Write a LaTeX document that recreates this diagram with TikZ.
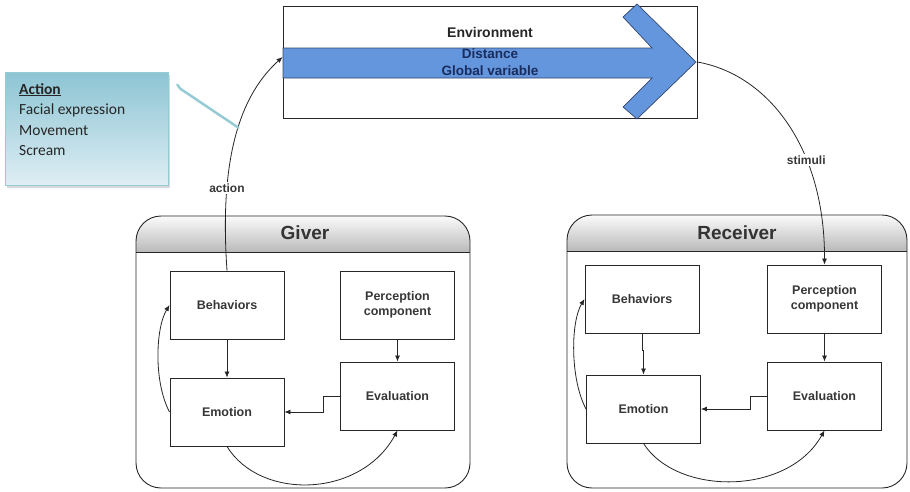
\documentclass[tikz,border=0pt]{standalone}
\usepackage{fontspec}
\setmainfont{Liberation Sans}
\newfontfamily\calfont{Carlito}
\usetikzlibrary{arrows.meta,shadows}

\definecolor{arrowblue}{RGB}{100,150,222}
\definecolor{arrowedge}{RGB}{50,70,110}
\definecolor{vartext}{RGB}{25,45,95}
\definecolor{calltop}{RGB}{140,196,212}
\definecolor{callbot}{RGB}{222,238,243}
\definecolor{callline}{RGB}{150,202,212}
\definecolor{headtop}{RGB}{250,250,250}
\definecolor{headbot}{RGB}{185,185,185}
\definecolor{boxtext}{RGB}{55,55,55}

\tikzset{
  envbox/.style={draw=black!85, line width=0.9pt, fill=white, minimum width=414pt, minimum height=112pt},
  blockarrow/.style={draw=arrowedge, line width=0.7pt, fill=arrowblue},
  envtitle/.style={font=\fontsize{14}{16}\selectfont\bfseries, text=black!85},
  envvars/.style={align=center, font=\fontsize{13.5}{17}\selectfont\bfseries, text=vartext},
  actionbox/.style={draw=callline, line width=0.6pt, top color=calltop, bottom color=callbot,
    minimum width=163pt, minimum height=113pt, drop shadow={shadow xshift=2pt, shadow yshift=-3pt, opacity=0.3}},
  acttext/.style={anchor=north west, align=left, inner sep=0pt, text=black!85, font=\calfont\fontsize{15.5}{20.5}\selectfont},
  callout/.style={draw=callline, line width=2.5pt, line cap=round},
  headband/.style={anchor=north, inner sep=0pt, minimum width=400pt, minimum height=36pt, top color=headtop, bottom color=headbot},
  agentbox/.style={draw=black!85, line width=0.9pt, rounded corners=25pt, fill=white,
    path picture={
      \node[headband] at (path picture bounding box.north) {};
      \draw[line width=0.9pt, black!85] ([yshift=-36pt]path picture bounding box.north west) -- ([yshift=-36pt]path picture bounding box.north east);
    }},
  agenttitle/.style={font=\fontsize{19}{22}\selectfont\bfseries, text=black!80},
  compbox/.style={draw=black!85, line width=0.9pt, fill=white, minimum width=114pt, minimum height=68pt,
    align=center, font=\fontsize{12.5}{15}\selectfont\bfseries, text=boxtext},
  flow/.style={-{Latex[length=6pt,width=5pt]}, line width=0.8pt, draw=black!85},
  flowlabel/.style={fill=white, inner sep=1.5pt, font=\fontsize{12}{14}\selectfont\bfseries, text=boxtext}
}

\begin{document}
\begin{tikzpicture}[x=1pt,y=1pt,yscale=-1]
\useasboundingbox (0,0) rectangle (910,491);

%Shape: Environment box
\node[envbox] (env) at (490,62) {};
%Shape: Block arrow
\draw[blockarrow] (283,48) -- (652,48) -- (623,17) -- (637,4) -- (696,62) -- (637,119) -- (623,107) -- (652,78) -- (283,78) -- cycle;
% Text Node
\node[envtitle] (envname) at (490,32) {Environment};
% Text Node
\node[envvars] (envvar) at (490,62) {Distance\\Global variable};

%Shape: Action callout
\node[actionbox] (act) at (86.5,128.5) {};
% Text Node
\node[acttext] (actlist) at (19,83) {\textbf{\underline{Action}}\\Facial expression\\Movement\\Scream};

%Shape: Giver
\node[agentbox, minimum width=334pt, minimum height=272pt] (giver) at (303,352) {};
\node[agenttitle] (givername) at (305,233) {Giver};
\node[compbox] (gbeh) at (227,305) {Behaviors};
\node[compbox] (gper) at (397.5,305) {Perception\\component};
\node[compbox] (gemo) at (227,412) {Emotion};
\node[compbox] (geva) at (397.5,396) {Evaluation};

%Shape: Receiver
\node[agentbox, minimum width=340pt, minimum height=273pt] (recv) at (737,351.5) {};
\node[agenttitle] (recvname) at (737,233) {Receiver};
\node[compbox] (rbeh) at (642,299) {Behaviors};
\node[compbox] (rper) at (824.5,299) {Perception\\component};
\node[compbox] (remo) at (643.5,409) {Emotion};
\node[compbox] (reva) at (824.5,396) {Evaluation};

%Lines: giver
\draw[flow] (gbeh.south) -- (gemo.north);
\draw[flow] (gper.south) -- (geva.north);
\draw[flow] (geva.west) -- ++(-17,0) |- (gemo.east);
\draw[flow] (gemo.west) .. controls +(-16,-30) and +(-14,23) .. (gbeh.west);
\draw[flow] (gemo.south) .. controls +(33,54) and +(-37,68) .. (geva.south);

%Lines: receiver
\draw[flow] (rbeh.south) -- ++(0,17) -| (remo.north);
\draw[flow] (rper.south) -- (reva.north);
\draw[flow] (reva.west) -- ++(-17,0) |- (remo.east);
\draw[flow] (remo.west) .. controls +(-16,-30) and +(-14,23) .. (rbeh.west);
\draw[flow] (remo.south) .. controls +(33,52) and +(-37,66) .. (reva.south);

%Curve Lines: action and stimuli
\draw[flow] (gbeh.north) .. controls (220,170) and (235,100) .. ([yshift=-5pt]env.west)
  coordinate[pos=0.57] (acttouch) node[flowlabel, pos=0.3] (actlabel) {action};
\draw[flow] (env.east) .. controls (770,75) and (825,150) .. (rper.north)
  node[flowlabel, pos=0.65] (stimlabel) {stimuli};
\draw[callout] ([shift={(9,13)}]act.north east) -- ++(3,4) -- (acttouch);

\end{tikzpicture}
\end{document}
